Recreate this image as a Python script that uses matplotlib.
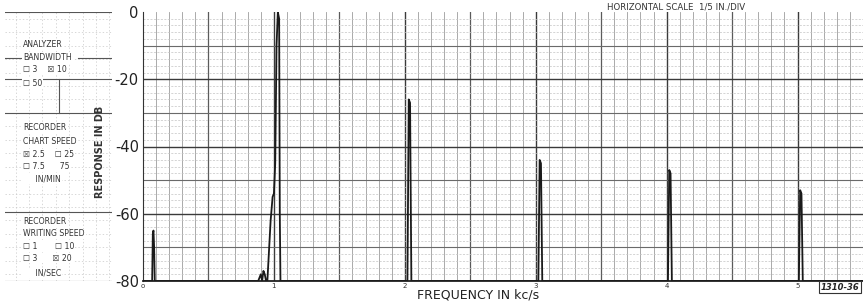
import numpy as np
import matplotlib.pyplot as plt

# trace (frequency in kc/s, response in dB)
trace_freq = [0.00, 0.07, 0.075, 0.08, 0.085, 0.09,
              0.88, 0.90, 0.91, 0.92, 0.93, 0.94, 0.95,
              0.975, 0.99, 1.00, 1.01, 1.02, 1.03, 1.04, 1.045, 1.05,
              2.02, 2.03, 2.04, 2.05,
              3.02, 3.03, 3.04, 3.05,
              4.01, 4.02, 4.03, 4.04,
              5.01, 5.02, 5.03, 5.04, 5.5]
trace_db = [-80, -80, -66, -65, -70, -80,
            -80, -78, -80, -77, -78, -80, -80,
            -62, -55, -54, -45, -10, 0, -2, -60, -80,
            -80, -26, -27, -80,
            -80, -44, -45, -80,
            -80, -47, -48, -80,
            -80, -53, -54, -80, -80]

y_ticks = [0, -20, -40, -60, -80]
x_ticks = [0, 1, 2, 3, 4, 5]
x_ticklabels = ['o', '1', '2', '3', '4', '5']

panel_lines = [
    ('ANALYZER', 0.88),
    ('BANDWIDTH', 0.83),
    ('\u2610 3    \u2612 10', 0.785),
    ('\u2610 50', 0.735),
    ('RECORDER', 0.57),
    ('CHART SPEED', 0.52),
    ('\u2612 2.5    \u2610 25', 0.47),
    ('\u2610 7.5      75', 0.425),
    ('     IN/MIN', 0.38),
    ('RECORDER', 0.22),
    ('WRITING SPEED', 0.175),
    ('\u2610 1       \u2610 10', 0.13),
    ('\u2610 3      \u2612 20', 0.085),
    ('     IN/SEC', 0.03),
]

fig = plt.figure(figsize=(8.63, 3.04), dpi=100)
ax = fig.add_axes([143/863, 1-281/304, 1-143/863, 269/304])

xmax = 5.5
ax.set_xlim(0, xmax)
ax.set_ylim(-80, 0)

# chart paper grid
for f in np.arange(0.1, xmax, 0.1):
    r = round(f * 10)
    if r % 10 == 0:
        ax.axvline(f, color='#3a3a3a', lw=1.0, zorder=1)
    elif r % 5 == 0:
        ax.axvline(f, color='#5a5a5a', lw=0.9, zorder=1)
    else:
        ax.axvline(f, color='#9c9c9c', lw=0.6, zorder=1)
for d in range(-78, 0, 2):
    if d % 20 == 0:
        ax.axhline(d, color='#3a3a3a', lw=1.0, zorder=1)
    elif d % 10 == 0:
        ax.axhline(d, color='#6a6a6a', lw=0.8, zorder=1)
    else:
        ax.axhline(d, color='#c4c4c4', lw=0.5, ls=(0, (3, 2)), zorder=1)

ax.plot(trace_freq, trace_db, color='#1a1a1a', lw=1.3, zorder=3)

for s in ['top', 'right']:
    ax.spines[s].set_visible(False)
ax.spines['left'].set_color('#333333')
ax.spines['bottom'].set_color('#222222')
ax.spines['bottom'].set_linewidth(1.3)

ax.set_yticks(y_ticks)
ax.set_yticklabels([str(v) for v in y_ticks], fontsize=10.5, color='#222222')
ax.set_xticks(x_ticks)
ax.set_xticklabels(x_ticklabels, fontsize=5, color='#333333')
ax.tick_params(axis='both', length=0, pad=3)
ax.tick_params(axis='x', pad=1.5)

fig.text(478/863, 1-295/304, 'FREQUENCY IN kc/s', ha='center', va='center',
         fontsize=9, color='#222222')
fig.text(100/863, 0.5, 'RESPONSE IN DB', rotation=90, ha='center', va='center',
         fontsize=7, color='#333333', fontweight='bold')
fig.text(676/863, 1-7/304, 'HORIZONTAL SCALE  1/5 IN./DIV', ha='center', va='center',
         fontsize=6.2, color='#333333')
fig.text(840/863, 1-287/304, '1310-36', ha='center', va='center', fontsize=6,
         style='italic', fontweight='bold', color='#222222',
         bbox=dict(boxstyle='square,pad=0.15', fc='white', ec='#333333', lw=0.8))

# settings panel on the left
pax = fig.add_axes([5/863, 1-281/304, 107/863, 269/304])
pax.set_xlim(0, 1)
pax.set_ylim(0, 1)
pax.axis('off')
for gx in np.arange(0.1, 1.0, 0.125):
    pax.axvline(gx, color='#c8c8c8', lw=0.5, ls=(0, (2, 3)))
for gy in np.arange(0.025, 1.0, 0.05):
    pax.axhline(gy, color='#c8c8c8', lw=0.5, ls=(0, (2, 3)))
for gy in [1.0, 0.75, 0.625, 0.255, 0.0]:
    pax.axhline(gy, color='#555555', lw=0.8)
pax.plot([0.5, 0.5], [0.625, 0.75], color='#555555', lw=0.8)
pax.axhline(0.83, xmin=0.0, xmax=0.15, color='#555555', lw=0.8)
pax.axhline(0.83, xmin=0.68, xmax=1.0, color='#555555', lw=0.8)
for txt, yy in panel_lines:
    pax.text(0.17, yy, txt, fontsize=5.6, color='#333333', va='center', ha='left',
             bbox=dict(fc='white', ec='none', pad=0.6))

fig.savefig('out.png', dpi=100, facecolor='white')
